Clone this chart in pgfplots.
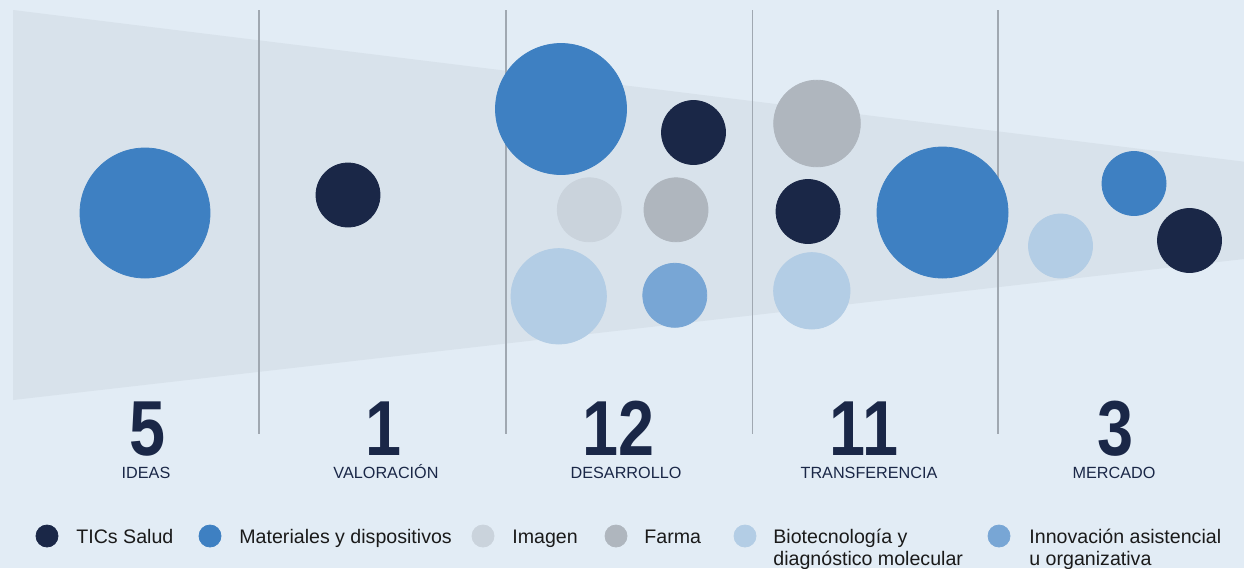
\documentclass[border=0pt]{standalone}
\usepackage{pgfplots}
\pgfplotsset{compat=1.18}
\usepackage{fontspec}
\setmainfont{Liberation Sans}
\newfontfamily\numfont{Liberation Sans}[FakeStretch=0.83]
\definecolor{bgc}{HTML}{E2ECF5}
\definecolor{funnel}{HTML}{D8E2EB}
\definecolor{sep}{HTML}{A0A8B1}
\definecolor{tics}{HTML}{1A2747}
\definecolor{mat}{HTML}{3E80C2}
\definecolor{img}{HTML}{CAD3DC}
\definecolor{farma}{HTML}{AFB6BE}
\definecolor{bio}{HTML}{B3CDE5}
\definecolor{innov}{HTML}{78A6D5}
\definecolor{txt}{HTML}{1A1A1A}
\pgfplotsset{bub/.style={only marks, scatter, mark=*,
  scatter/use mapped color={draw=#1, fill=#1},
  visualization depends on={\thisrow{r}\as\rr},
  scatter/@pre marker code/.append style={/tikz/mark size=\rr/2}}}
\tikzset{num/.style={anchor=base, inner sep=0pt, text=tics, font=\numfont\bfseries\fontsize{39}{39}\selectfont},
  lab/.style={anchor=base, inner sep=0pt, text=tics, font=\fontsize{8.1}{8.1}\selectfont},
  leg/.style={anchor=base west, inner sep=0pt, text=txt, font=\fontsize{9.8}{11}\selectfont}}
\begin{document}
\begin{tikzpicture}
\begin{axis}[name=ax, width=622pt, height=284pt, scale only axis,
  xmin=0, xmax=1244, ymin=0, ymax=568, y dir=reverse, hide axis, clip=false]
% background and funnel
\addplot[fill=bgc, draw=none] coordinates {(0,0) (1244,0) (1244,568) (0,568)} -- cycle;
\addplot[fill=funnel, draw=none] coordinates {(13,10) (1244,161.7) (1244,259) (13,400)} -- cycle;
% separators
\addplot[sep, line width=0.6pt] coordinates {(259,10) (259,434)};
\addplot[sep, line width=0.6pt] coordinates {(506,10) (506,434)};
\addplot[sep, line width=0.6pt] coordinates {(752.5,10) (752.5,434)};
\addplot[sep, line width=0.6pt] coordinates {(998,10) (998,434)};
% bubbles
\addplot[bub=mat] table[row sep=\\] {x y r\\ 145 213 65\\ 561 109 65.5\\ 942.5 212.5 65.5\\ 1134 183.5 32\\};
\addplot[bub=tics] table[row sep=\\] {x y r\\ 348 195 32\\ 693.5 132.5 32\\ 808 211.5 32\\ 1189.5 240.5 32\\};
\addplot[bub=img] table[row sep=\\] {x y r\\ 589.3 209.8 32\\};
\addplot[bub=farma] table[row sep=\\] {x y r\\ 676 209.8 32\\ 817 123.5 43.3\\};
\addplot[bub=bio] table[row sep=\\] {x y r\\ 558.7 296.3 47.7\\ 811.8 290.8 38.2\\ 1060.5 246 32\\};
\addplot[bub=innov] table[row sep=\\] {x y r\\ 674.8 295.3 32\\};
% big numbers
\node[num] at (axis cs:148,455.7) {5};
\node[num] at (axis cs:383,455.7) {1};
\node[num] at (axis cs:618,455.7) {12};
\node[num] at (axis cs:864,455.7) {11};
\node[num] at (axis cs:1115,455.7) {3};
% stage labels
\node[lab] at (axis cs:146,478.3) {IDEAS};
\node[lab] at (axis cs:386,478.3) {VALORACIÓN};
\node[lab] at (axis cs:626,478.3) {DESARROLLO};
\node[lab] at (axis cs:869,478.3) {TRANSFERENCIA};
\node[lab] at (axis cs:1114,478.3) {MERCADO};
% legend markers
\addplot[only marks, mark=*, mark size=5.5pt, tics] coordinates {(47,536)};
\addplot[only marks, mark=*, mark size=5.5pt, mat] coordinates {(210,536)};
\addplot[only marks, mark=*, mark size=5.5pt, img] coordinates {(483,536)};
\addplot[only marks, mark=*, mark size=5.5pt, farma] coordinates {(616,536)};
\addplot[only marks, mark=*, mark size=5.5pt, bio] coordinates {(745,536)};
\addplot[only marks, mark=*, mark size=5.5pt, innov] coordinates {(999,536)};
% legend texts
\node[leg] at (axis cs:76,543) {TICs Salud};
\node[leg] at (axis cs:239,543) {Materiales y dispositivos};
\node[leg] at (axis cs:512,543) {Imagen};
\node[leg] at (axis cs:644,543) {Farma};
\node[leg] at (axis cs:773,543) {Biotecnología y};
\node[leg] at (axis cs:773,565) {diagnóstico molecular};
\node[leg] at (axis cs:1029,543) {Innovación asistencial};
\node[leg] at (axis cs:1029,565) {u organizativa};
\end{axis}
\pgfresetboundingbox
\path[use as bounding box] (ax.south west) rectangle (ax.north east);
\end{tikzpicture}
\end{document}
